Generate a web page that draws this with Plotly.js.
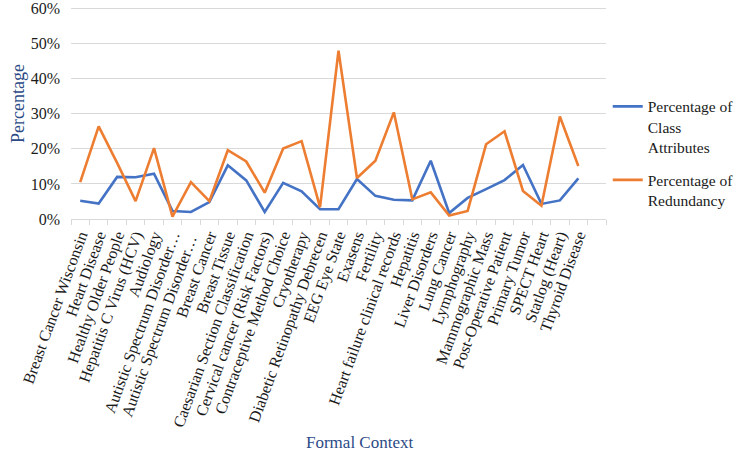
<!DOCTYPE html>
<html>
<head>
<meta charset="utf-8">
<script src="https://cdn.plot.ly/plotly-3.0.1.min.js"></script>
<style>
  html, body { margin: 0; padding: 0; background: #ffffff; }
  #chart { width: 738px; height: 456px; }
</style>
</head>
<body>
<div id="chart"></div>
<script>
// Datasets (formal contexts); the last slot is an empty category
const datasets = [
  "Breast Cancer Wisconsin", "Heart Disease", "Healthy Older People",
  "Hepatitis C Virus (HCV)", "Audiology", "Autistic Spectrum Disorder…",
  "Autistic Spectrum Disorder… ", "Breast Cancer", "Breast Tissue",
  "Caesarian Section Classification", "Cervical cancer (Risk Factors)",
  "Contraceptive Method Choice", "Cryotherapy", "Diabetic Retinopathy Debrecen",
  "EEG Eye State", "Exasens", "Fertility", "Heart failure clinical records",
  "Hepatitis", "Liver Disorders", "Lung Cancer", "Lymphography",
  "Mammographic Mass", "Post-Operative Patient", "Primary Tumor",
  "SPECT Heart", "Statlog (Heart)", "Thyroid Disease", " "
];

// Share of class attributes per dataset
const classAttributes = [
  0.052, 0.044, 0.120, 0.119, 0.129, 0.023, 0.020, 0.048, 0.153, 0.110,
  0.020, 0.103, 0.079, 0.028, 0.028, 0.114, 0.066, 0.055, 0.053, 0.166,
  0.017, 0.060, 0.085, 0.111, 0.154, 0.043, 0.053, 0.116
];

// Share of redundancy per dataset
const redundancy = [
  0.105, 0.264, 0.160, 0.051, 0.202, 0.007, 0.105, 0.051, 0.196, 0.164,
  0.075, 0.201, 0.222, 0.034, 0.480, 0.117, 0.166, 0.304, 0.056, 0.076,
  0.010, 0.023, 0.213, 0.250, 0.080, 0.038, 0.292, 0.151
];

const seriesNames = ["Percentage of<br>Class<br>Attributes", "Percentage of<br>Redundancy"];
const yTicks = [0, 0.1, 0.2, 0.3, 0.4, 0.5, 0.6];

const serif = "Liberation Serif";
const navy = "#2c4a86";

const traces = [
  {
    type: "scatter", mode: "lines",
    x: datasets.slice(0, classAttributes.length), y: classAttributes,
    name: seriesNames[0], legendgroup: "class",
    line: { color: "#4472c4", width: 2.6 }
  },
  {
    type: "scatter", mode: "lines",
    x: datasets.slice(0, redundancy.length), y: redundancy,
    name: seriesNames[1], legendgroup: "redundancy",
    line: { color: "#ed7d31", width: 2.6 }
  }
];

const layout = {
  width: 738, height: 456,
  margin: { l: 71, r: 132, t: 5, b: 237 },
  paper_bgcolor: "#ffffff", plot_bgcolor: "#ffffff",
  font: { family: serif, size: 15, color: "#1a1a1a" },
  showlegend: true,
  legend: {
    xref: "container", yref: "container",
    x: 0.8235, xanchor: "left", y: 0.803, yanchor: "top",
    valign: "top", tracegroupgap: 10,
    font: { family: serif, size: 15.5, color: "#1a1a1a" },
    bgcolor: "rgba(0,0,0,0)"
  },
  xaxis: {
    type: "category",
    categoryorder: "array", categoryarray: datasets,
    tickvals: datasets, ticktext: datasets,
    range: [-0.5, datasets.length - 0.5],
    tickangle: -70,
    showgrid: false, zeroline: false,
    showline: true, linecolor: "#d9d9d9", linewidth: 1,
    ticks: "outside", ticklen: 5, tickcolor: "#d9d9d9", tickson: "boundaries",
    tickfont: { family: serif, size: 16, color: "#1a1a1a" },
    fixedrange: true
  },
  yaxis: {
    range: [0, 0.61],
    tickvals: yTicks, tickformat: ".0%",
    showgrid: true, gridcolor: "#d9d9d9", gridwidth: 1,
    zeroline: false, showline: false, ticks: "",
    ticklabelstandoff: 10, ticklabeloverflow: "allow",
    tickfont: { family: serif, size: 16, color: "#1a1a1a" },
    fixedrange: true
  },
  annotations: [
    {
      text: "Percentage", textangle: -90,
      xref: "paper", yref: "paper", x: -0.098, y: 0.54,
      xanchor: "center", yanchor: "middle", showarrow: false,
      font: { family: serif, size: 18, color: navy }
    },
    {
      text: "Formal Context",
      xref: "paper", yref: "paper", x: 0.54, y: -1.045,
      xanchor: "center", yanchor: "middle", showarrow: false,
      font: { family: serif, size: 17, color: navy }
    }
  ]
};

Plotly.newPlot("chart", traces, layout, { displayModeBar: false, staticPlot: true });
</script>
</body>
</html>
